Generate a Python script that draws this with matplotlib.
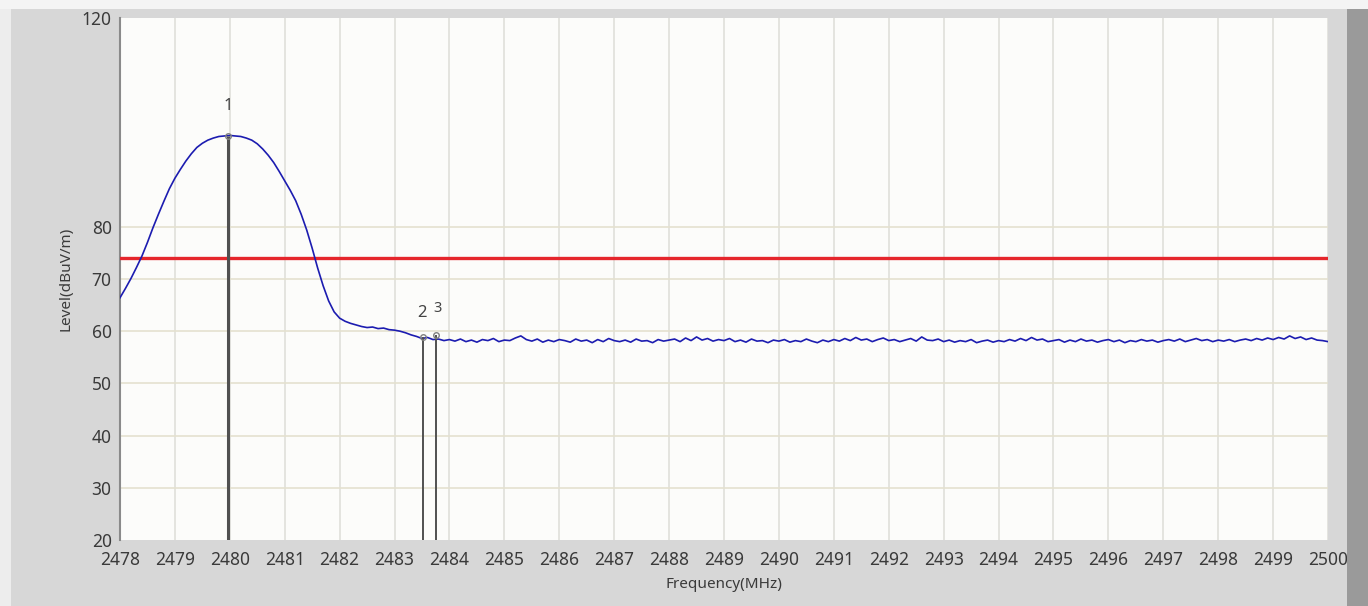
import numpy as np
import matplotlib
matplotlib.use("Agg")
import matplotlib.pyplot as plt
from matplotlib.patches import Rectangle

# frequency grid (MHz), 0.1 MHz steps
freq = np.round(np.arange(2478.0, 2500.01, 0.1), 1)

# level, 2478.0 .. 2484.0
level_peak = [
    66.4, 68.2, 70.1, 72.2, 74.4, 77.0, 79.8, 82.4, 84.9, 87.3,
    89.3, 91.0, 92.6, 94.0, 95.2, 96.0, 96.6, 97.0, 97.3, 97.4,
    97.5, 97.4, 97.3, 97.0, 96.6, 95.9, 94.9, 93.7, 92.3, 90.6,
    88.8, 87.0, 85.0, 82.4, 79.4, 75.9, 72.1, 68.7, 65.8, 63.7,
    62.5, 61.9, 61.5, 61.2, 60.9, 60.7, 60.8, 60.5, 60.6, 60.3,
    60.2, 60.0, 59.7, 59.3, 59.0, 58.6, 58.8, 58.4, 58.5, 58.2,
    58.4,
]
# noise floor, 2484.1 .. 2500.0
level_floor = [
    58.1, 58.5, 58.0, 58.3, 57.9, 58.4, 58.2, 58.6, 58.0, 58.3,
    58.2, 58.7, 59.1, 58.4, 58.1, 58.5, 57.9, 58.3, 58.0, 58.4,
    58.2, 57.9, 58.5, 58.1, 58.3, 57.8, 58.4, 58.0, 58.6, 58.2,
    58.0, 58.3, 57.9, 58.5, 58.1, 58.2, 57.8, 58.4, 58.1, 58.3,
    58.5, 58.0, 58.7, 58.2, 58.9, 58.3, 58.6, 58.1, 58.4, 58.2,
    58.6, 58.0, 58.3, 57.9, 58.5, 58.1, 58.2, 57.8, 58.3, 58.1,
    58.4, 57.9, 58.2, 58.0, 58.5, 58.1, 57.8, 58.3, 58.0, 58.4,
    58.1, 58.6, 58.2, 58.8, 58.3, 58.5, 58.0, 58.4, 58.7, 58.2,
    58.4, 58.0, 58.3, 58.6, 58.1, 58.9, 58.3, 58.2, 58.5, 58.0,
    58.3, 57.9, 58.2, 58.0, 58.4, 57.8, 58.1, 58.3, 57.9, 58.2,
    58.0, 58.4, 58.1, 58.6, 58.2, 58.8, 58.3, 58.5, 58.0, 58.2,
    58.4, 57.9, 58.3, 58.0, 58.5, 58.1, 58.3, 57.9, 58.2, 58.4,
    58.0, 58.3, 57.8, 58.2, 58.0, 58.4, 58.1, 58.3, 57.9, 58.2,
    58.4, 58.1, 58.5, 58.0, 58.3, 58.6, 58.2, 58.4, 58.0, 58.3,
    58.1, 58.4, 58.0, 58.3, 58.5, 58.2, 58.6, 58.3, 58.7, 58.4,
    58.8, 58.5, 59.1, 58.6, 58.9, 58.4, 58.7, 58.3, 58.2, 58.0,
]
level = level_peak + level_floor

limit = 74.0

marker_names = ["1", "2", "3"]
marker_freq = [2479.97, 2483.52, 2483.76]
marker_level = [97.4, 58.8, 59.3]

x_ticks = list(range(2478, 2501))
y_ticks = [20, 30, 40, 50, 60, 70, 80, 120]
y_grid = [30, 40, 50, 60, 70, 80]

plt.rcParams["font.family"] = ["Noto Sans", "DejaVu Sans"]

fig = plt.figure(figsize=(13.68, 6.06), dpi=100, facecolor="#d7d7d7")
# panel edges
fig.patches.append(Rectangle((0, 0), 0.008, 1, transform=fig.transFigure,
                             facecolor="#ededed", edgecolor="none", zorder=0))
fig.patches.append(Rectangle((0.985, 0), 0.015, 1, transform=fig.transFigure,
                             facecolor="#9a9a9a", edgecolor="none", zorder=0))
fig.patches.append(Rectangle((0, 0.985), 1, 0.015, transform=fig.transFigure,
                             facecolor="#f4f4f4", edgecolor="none", zorder=0))

ax = fig.add_axes([0.0877, 0.1089, 0.8831, 0.8614])
ax.set_facecolor("#fcfcfa")

ax.set_xlim(2478, 2500)
ax.set_ylim(20, 120)
ax.set_xticks(x_ticks)
ax.set_yticks(y_ticks)
ax.tick_params(length=0, labelsize=12.5, labelcolor="#3a3a3a")
ax.tick_params(axis="x", pad=8)
ax.tick_params(axis="y", pad=6)

for xv in x_ticks:
    ax.axvline(xv, color="#e0e0da", lw=1.2, zorder=1)
for yv in y_grid:
    ax.axhline(yv, color="#e4e1cf", lw=1.2, zorder=1)

for s in ["top", "right", "bottom"]:
    ax.spines[s].set_visible(False)
ax.spines["left"].set_color("#8a8a8a")
ax.spines["left"].set_linewidth(1.5)

ax.axhline(limit, color="#e5262b", lw=2.4, zorder=3)

ax.plot(freq, level, color="#1c1cb0", lw=1.2, zorder=4)

for i, (name, f, lv) in enumerate(zip(marker_names, marker_freq, marker_level)):
    lw = 2.2 if i == 0 else 1.4
    ax.vlines(f, 20, lv, color="#505050", lw=lw, zorder=5)
    ax.plot(f, lv, marker="o", ms=4, mfc="none", mec="#808080", mew=1, zorder=6)

ax.text(marker_freq[0], marker_level[0] + 4.3, marker_names[0], ha="center",
        va="bottom", fontsize=12, color="#444444")
ax.text(marker_freq[1] - 0.02, marker_level[1] + 3.2, marker_names[1], ha="center",
        va="bottom", fontsize=12, color="#444444")
ax.text(marker_freq[2] + 0.03, marker_level[2] + 3.7, marker_names[2], ha="center",
        va="bottom", fontsize=10.5, color="#444444")

ax.set_xlabel("Frequency(MHz)", fontsize=11, color="#3a3a3a", labelpad=6)
ax.set_ylabel("Level(dBuV/m)", fontsize=11, color="#3a3a3a", labelpad=6)

fig.savefig("out.png", dpi=100, facecolor=fig.get_facecolor())
